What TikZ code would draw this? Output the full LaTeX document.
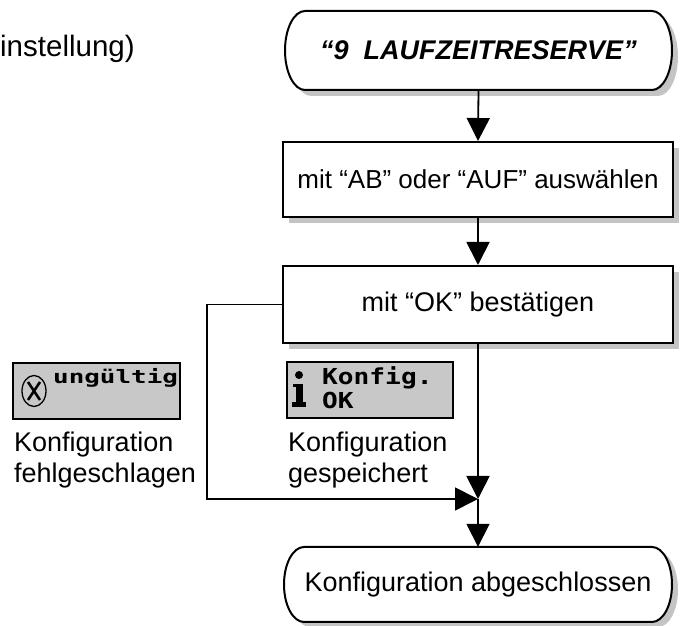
\documentclass[tikz,border=0pt]{standalone}
\usepackage{graphicx}
\usepackage{fontspec}
\setmainfont{Liberation Sans}
\newfontfamily\lcdfont{DejaVu Sans Mono}
\usetikzlibrary{arrows.meta,backgrounds}
\definecolor{shadowgray}{RGB}{196,196,196}
\definecolor{lcdgray}{RGB}{200,200,200}
\begin{document}
\begin{tikzpicture}[x=1pt,y=1pt,
  conn/.style={line width=1.8pt,-{Triangle[length=23pt,width=23pt]}},
  txt/.style={inner sep=0pt,font=\fontsize{27}{32}\selectfont},
  boxnode/.style={draw,line width=2pt,fill=white,minimum width=390pt,minimum height=75pt,inner sep=0pt,
    font=\fontsize{27}{32}\selectfont},
  termline/.style={draw,line width=2pt,fill=white},
  lcd/.style={draw,line width=2.5pt,fill=lcdgray,inner sep=0pt},
  lcdtxt/.style={inner sep=0pt,anchor=base west}
]
\useasboundingbox (0,0) rectangle (681,626);

% shadows
\fill[shadowgray] (311,609) -- (658,609) arc[start angle=90,end angle=-90,x radius=20pt,y radius=39.5pt]
  -- (311,530) arc[start angle=270,end angle=90,x radius=20pt,y radius=39.5pt] -- cycle;
\fill[shadowgray] (289,403) rectangle (679,478);
\fill[shadowgray] (289,277) rectangle (679,354);
\fill[shadowgray] (310,74) -- (658,74) arc[start angle=90,end angle=-90,x radius=20pt,y radius=37.5pt]
  -- (310,-1) arc[start angle=270,end angle=90,x radius=20pt,y radius=37.5pt] -- cycle;

% top terminal
\path[termline] (305,615) -- (652,615) arc[start angle=90,end angle=-90,x radius=20pt,y radius=39.5pt]
  -- (305,536) arc[start angle=270,end angle=90,x radius=20pt,y radius=39.5pt] -- cycle;
\node[txt,minimum width=387pt,minimum height=79pt] (start) at (478.5,575.5)
  {\bfseries\itshape “9\ \ LAUFZEITRESERVE”};

% boxes
\node[boxnode,font=\fontsize{26}{31}\selectfont] (sel) at (478,446.5) {mit “AB” oder “AUF” auswählen};
\node[boxnode,minimum height=77pt] (ok) at (478,321.5) {mit “OK” bestätigen};

% bottom terminal
\path[termline] (304,79) -- (652,79) arc[start angle=90,end angle=-90,x radius=20pt,y radius=37.5pt]
  -- (304,4) arc[start angle=270,end angle=90,x radius=20pt,y radius=37.5pt] -- cycle;
\node[txt,minimum width=388pt,minimum height=75pt] (end) at (478,41.5) {Konfiguration abgeschlossen};

% connectors
\coordinate (j) at (478,127);
\draw[conn] (start.south) -- (sel.north);
\draw[conn] (sel.south) -- (ok.north);
\draw[conn] (ok.south) -- (j);
\draw[conn] (ok.west) -- ++(-75,0) |- (j);
\draw[conn] (j) -- (end.north);

% left text fragment
\node[inner sep=0pt,anchor=base west,font=\fontsize{29.5}{34}\selectfont] (frag) at (0,569) {instellung)};

% display: ungueltig
\node[lcd,minimum width=167pt,minimum height=56pt] (bad) at (96.5,235) {};
\draw[line width=1.3pt] (34,235) ellipse[x radius=12pt,y radius=15.5pt];
\draw[line width=2.6pt] (28,226) -- (40,244) (28,244) -- (40,226);
\node[lcdtxt] (badtxt) at (53,242) {\lcdfont\bfseries\fontsize{18.5}{18.5}\selectfont\scalebox{1.4}[1]{ungültig}};

% display: Konfig OK
\node[lcd,minimum width=166pt,minimum height=56pt] (good) at (370,236) {};
\fill (299,251) circle[radius=4pt];
\fill (296,242) rectangle (303,221);
\fill (292,224) rectangle (306,219);
\fill (293,242) rectangle (303,239);
\node[lcdtxt] (goodtxt1) at (322,241) {\lcdfont\bfseries\fontsize{22}{22}\selectfont\scalebox{1.19}[1]{Konfig.}};
\node[lcdtxt] (goodtxt2) at (322,217) {\lcdfont\bfseries\fontsize{22}{22}\selectfont\scalebox{1.19}[1]{OK}};

% captions
\node[txt,anchor=base west] (cap1a) at (14,174) {Konfiguration};
\node[txt,anchor=base west] (cap1b) at (14,143) {fehlgeschlagen};
\node[txt,anchor=base west] (cap2a) at (288,174) {Konfiguration};
\node[txt,anchor=base west] (cap2b) at (288,143) {gespeichert};
\end{tikzpicture}
\end{document}
